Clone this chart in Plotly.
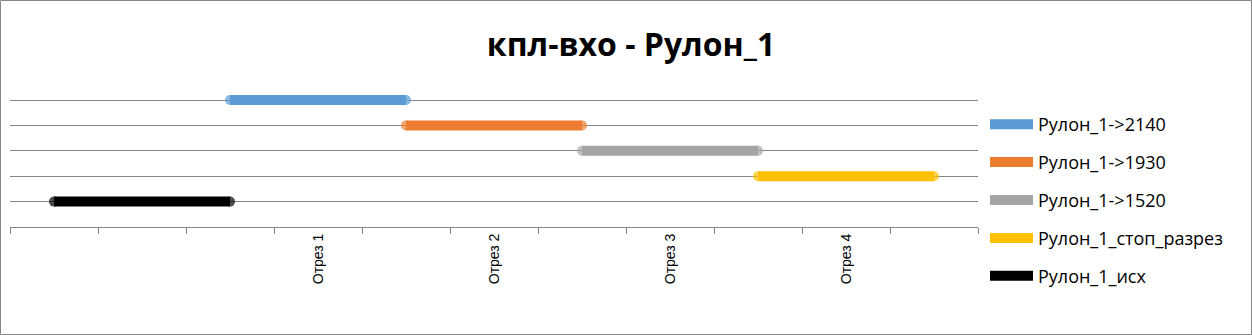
import plotly.graph_objects as go

categories = ["", "", "", "Отрез 1", "", "Отрез 2", "", "Отрез 3", "", "Отрез 4", ""]

series_names = ["Рулон_1->2140", "Рулон_1->1930", "Рулон_1->1520",
                "Рулон_1_стоп_разрез", "Рулон_1_исх"]
s_2140 = [None, None, 5, 5, 5, None, None, None, None, None, None]
s_1930 = [None, None, None, None, 4, 4, 4, None, None, None, None]
s_1520 = [None, None, None, None, None, None, 3, 3, 3, None, None]
s_stop = [None, None, None, None, None, None, None, None, 2, 2, 2]
s_ish = [1, 1, 1, None, None, None, None, None, None, None, None]
series_values = [s_2140, s_1930, s_1520, s_stop, s_ish]
colors = ["#5B9BD5", "#ED7D31", "#A5A5A5", "#FFC000", "#000000"]

x = list(range(1, len(categories) + 1))
tickvals = [i for i, c in zip(x, categories) if c]
ticktext = [c for c in categories if c]

W, H = 1252, 335
L, R, T, B = 10, 274, 10, 10
plot_top_px, plot_bot_px = 100, 227   # pixel rows of y=5 and y=0
YMAX = 5.25
unit = (plot_bot_px - plot_top_px) / 5.0
top_px = plot_bot_px - YMAX * unit

pw = W - L - R
ph = H - T - B
def px2paper_x(px):
    return (px - L) / pw
def px2paper_y(py):
    return (H - B - py) / ph


def end_sizes(vals, s=10):
    out = []
    n = len(vals)
    for i, v in enumerate(vals):
        if v is None:
            out.append(0)
            continue
        left = vals[i - 1] if i > 0 else None
        right = vals[i + 1] if i < n - 1 else None
        out.append(s if (left is None or right is None) else 0)
    return out


fig = go.Figure()
for i, (name, vals, col) in enumerate(zip(series_names, series_values, colors)):
    fig.add_trace(go.Scatter(
        x=x, y=vals, name=name, mode="lines+markers",
        line=dict(color=col, width=10),
        marker=dict(color=col, size=end_sizes(vals), line=dict(width=0)),
        legendgroup=f"g{i}", connectgaps=False, hoverinfo="skip",
    ))

fig.add_shape(type="rect", xref="paper", yref="paper",
              x0=px2paper_x(0.5), x1=px2paper_x(W - 0.5),
              y0=px2paper_y(H - 0.5), y1=px2paper_y(0.5),
              line=dict(color="#868686", width=1), fillcolor="rgba(0,0,0,0)",
              layer="below")

fig.update_layout(
    width=W, height=H,
    margin=dict(l=L, r=R, t=T, b=B, pad=0),
    paper_bgcolor="white", plot_bgcolor="white",
    title=dict(text="<b>кпл-вхо - Рулон_1</b>", x=631 / W, xref="container",
               xanchor="center", y=1 - 45 / H, yref="container", yanchor="middle",
               font=dict(family="Open Sans", size=32, color="#000000")),
    showlegend=True,
    legend=dict(x=px2paper_x(985), xanchor="left", y=px2paper_y(106), yanchor="top",
                font=dict(family="Open Sans", size=18, color="#000000"),
                tracegroupgap=11.5, itemwidth=43, maxheight=1.0,
                bgcolor="rgba(0,0,0,0)", borderwidth=0),
    xaxis=dict(range=[0.5, len(categories) + 0.5], tickmode="array",
               tickvals=tickvals, ticktext=ticktext, tickangle=-90,
               ticks="", showgrid=False, zeroline=False,
               showline=True, linecolor="#868686", linewidth=1,
               tickfont=dict(family="Liberation Sans", size=14, color="#000000"),
               minor=dict(tickmode="linear", tick0=0.5, dtick=1, ticks="outside",
                          ticklen=6, tickcolor="#868686", tickwidth=1, showgrid=False),
               fixedrange=True),
    yaxis=dict(range=[0, YMAX], tickmode="array", tickvals=[1, 2, 3, 4, 5],
               showticklabels=False,
               domain=[px2paper_y(plot_bot_px), px2paper_y(top_px)],
               showgrid=True, gridcolor="#868686", gridwidth=1,
               zeroline=False, showline=False, ticks="", fixedrange=True),
)

fig.write_html("out.html")
